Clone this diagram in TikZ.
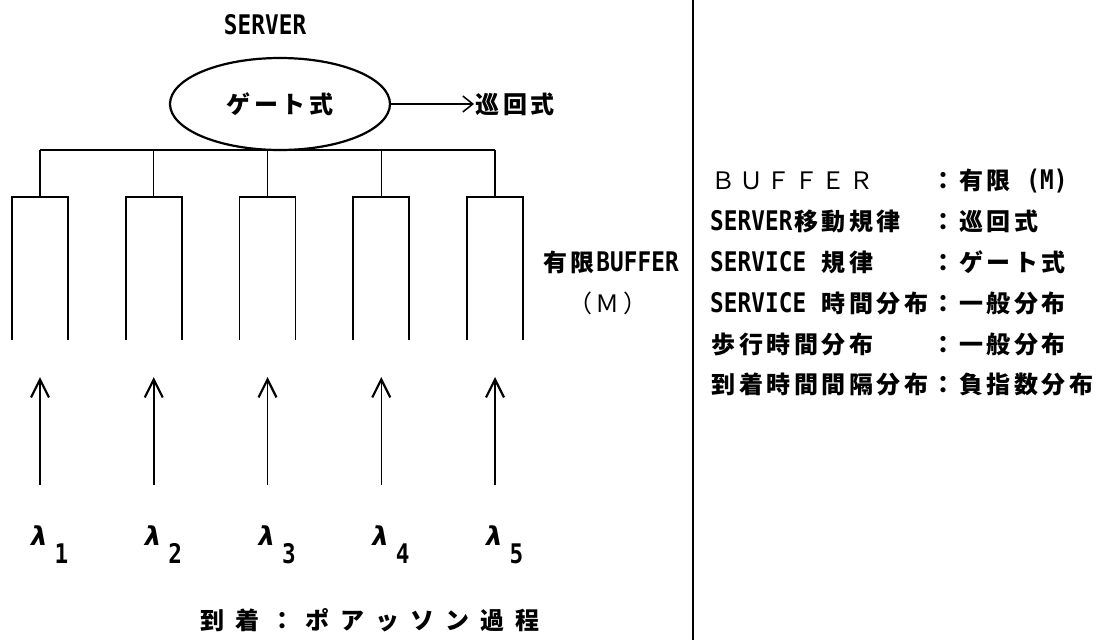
\documentclass[tikz,border=0pt]{standalone}
\usepackage{fontspec}
\usetikzlibrary{arrows.meta,shapes.geometric}
\newfontfamily\jp{Noto Sans CJK JP}
\newfontfamily\lat[FakeStretch=0.84]{DejaVu Sans Mono}
\newfontfamily\gk{DejaVu Sans}
\makeatletter
\newcommand\gr[2]{\@tfor\gr@c:=#2\do{\makebox[#1]{\gr@c}}}
\makeatother
\newcommand\J[1]{{\jp\bfseries\fontsize{24}{24}\selectfont\gr{27.5pt}{#1}}}
\newcommand\JW[1]{{\jp\bfseries\fontsize{24}{24}\selectfont\gr{35pt}{#1}}}
\newcommand\JL[1]{{\jp\fontsize{24}{24}\selectfont\gr{27.5pt}{#1}}}
\newcommand\LT[1]{{\lat\bfseries\fontsize{27}{27}\selectfont\gr{13.75pt}{#1}}}
\newcommand\lam{{\gk\bfseries\itshape\fontsize{26}{26}\selectfont λ}}
\newcommand\lamsub[1]{\lam\hspace{7pt}\raisebox{-18pt}{\LT{#1}}}
\tikzset{
  thin line/.style={line width=1.4pt},
  bufbox/.style={minimum width=56pt, minimum height=143pt, inner sep=0pt, outer sep=0pt},
  uarrow/.style={line width=1.5pt, -{Straight Barb[length=18pt,width=18pt,line width=2.2pt]}},
  harrow/.style={line width=1.4pt, -{Straight Barb[length=10pt,width=16pt,line width=1.5pt]}},
  txt/.style={inner sep=0pt, outer sep=0pt},
}
\begin{document}
\begin{tikzpicture}[x=1pt,y=-1pt]
\useasboundingbox[fill=white] (0,0) rectangle (1108,640);

% server
\node[txt, anchor=base] (srvlbl) at (265,34) {\LT{SERVER}};
\node[draw, ellipse, line width=2.2pt, minimum width=220pt, minimum height=92pt, inner sep=0pt] (srv) at (280,104) {\J{ゲート式}};
\node[txt, anchor=west] (jun) at (474,104) {\J{巡回式}};
\draw[harrow] (srv.east) -- (jun.west);

% bar
\coordinate (barL) at (40,150);
\coordinate (barR) at (495,150);
\draw[thin line] (barL) -- (barR);

\foreach \i/\x in {1/40,2/153.75,3/267.5,4/381.25,5/495}{
  \node[bufbox] (q\i) at (\x,268.5) {};
  \draw[line width=1.8pt] (q\i.south west) -- (q\i.north west) -- (q\i.north east) -- (q\i.south east);
  \draw[thin line] (q\i.north) -- (q\i.north |- barL);
  \coordinate (s\i) at (\x,485);
  \coordinate (t\i) at (\x,377);
  \draw[uarrow] (s\i) -- (t\i);
  \node[txt, anchor=base west] (lam\i) at (\x-9,545) {\lamsub{\i}};
}

% bottom label
\node[txt, anchor=base] (arr) at (370,629.5) {\JW{到着：ポアッソン過程}};

% left label
\node[txt, anchor=base] (fin) at (610,271) {\J{有限}\LT{BUFFER}};
\node[txt, anchor=base] (finm) at (608,312) {\JL{（Ｍ）}};

% divider
\coordinate (dtop) at (693,0);
\coordinate (dbot) at (693,640);
\draw[line width=1.5pt] (dtop) -- (dbot);

% right panel
\node[txt, anchor=base west] (r1) at (710,189) {\makebox[220pt][l]{\JL{ＢＵＦＦＥＲ}}\J{：有限}\hspace{13.75pt}\LT{(M)}};
\node[txt, anchor=base west] (r2) at (710,230) {\makebox[220pt][l]{\LT{SERVER}\J{移動規律}}\J{：巡回式}};
\node[txt, anchor=base west] (r3) at (710,271) {\makebox[220pt][l]{\LT{SERVICE}\hspace{13.75pt}\J{規律}}\J{：ゲート式}};
\node[txt, anchor=base west] (r4) at (710,312) {\makebox[220pt][l]{\LT{SERVICE}\hspace{13.75pt}\J{時間分布}}\J{：一般分布}};
\node[txt, anchor=base west] (r5) at (710,353) {\makebox[220pt][l]{\J{歩行時間分布}}\J{：一般分布}};
\node[txt, anchor=base west] (r6) at (710,393.5) {\makebox[220pt][l]{\J{到着時間間隔分布}}\J{：負指数分布}};
\end{tikzpicture}
\end{document}
